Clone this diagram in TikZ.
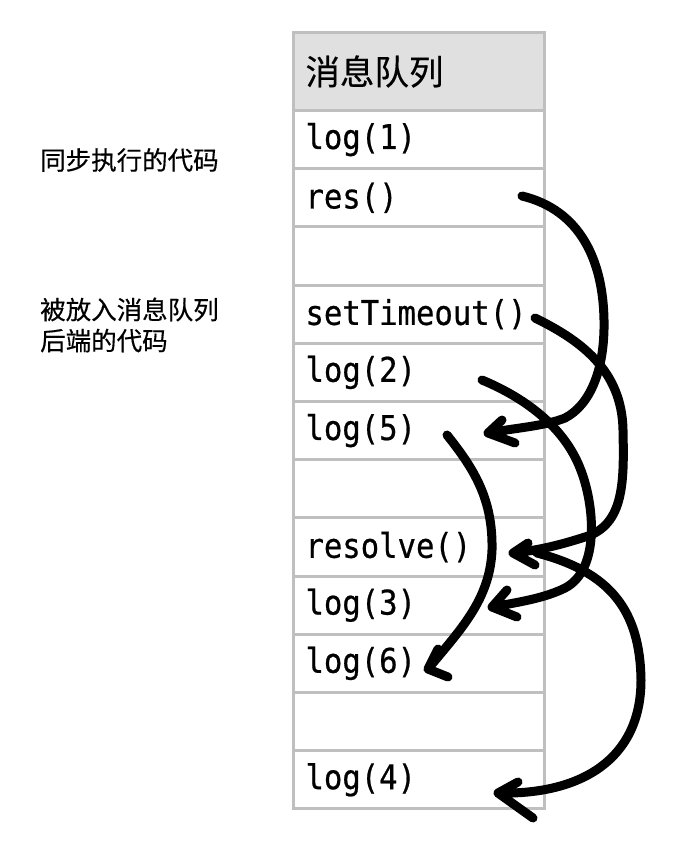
\documentclass[tikz,border=0pt]{standalone}
\usepackage{fontspec}
\newfontfamily\codefont[FakeStretch=0.9,FakeBold=0.6]{DejaVu Sans Mono}
\newfontfamily\cjk[FakeBold=0.4]{Noto Sans CJK SC}
\usetikzlibrary{calc}
\definecolor{qgray}{RGB}{191,191,191}
\definecolor{qhead}{RGB}{224,224,224}

\begin{document}
\begin{tikzpicture}[x=1pt,y=-1pt,
	cell/.style={draw=qgray, line width=3pt, rectangle, anchor=north west, minimum height=58.2pt, text width=227pt, inner xsep=12pt, inner ysep=0pt, align=left, font=\fontsize{34}{38}\selectfont\codefont},
	headcell/.style={cell, fill=qhead, minimum height=78pt, font=\fontsize{34.5}{40}\selectfont\cjk},
	note/.style={anchor=west, inner sep=0pt, align=left, font=\fontsize{25.5}{31}\selectfont\cjk},
	pen/.style={line width=9pt, line cap=round, line join=round}]
	\useasboundingbox (0,0) rectangle (683,846);
	%queue header and rows
	\node[headcell] (head) at (292,31) {消息队列};
	\foreach \name/\txt [count=\k] in {l1/log(1), res/res(), e1/, st/setTimeout(), l2/log(2), l5/log(5), e2/, rsv/resolve(), l3/log(3), l6/log(6), e3/, l4/log(4)}{
		\node[cell] (\name) at (292,{109+58.2*(\k-1)}) {\txt};
		}
	%%side notes
	\node[note] (sync) at (40,160) {同步执行的代码};
	\node[note] (async) at (40,325) {被放入消息队列\\后端的代码};
	%% hand drawn arrows
	\coordinate (res-out) at (522,196); \coordinate (l5-in) at (488,433);
	\coordinate (st-out) at (535,318); \coordinate (rsv-in) at (513,553);
	\coordinate (l2-out) at (482,380); \coordinate (l3-in) at (492,607);
	\coordinate (l5-out) at (447,435); \coordinate (l6-in) at (428,669);
	\coordinate (rsv-out) at (537,553); \coordinate (l4-in) at (498,793);
	\draw[pen] (res-out) .. controls (580,210) and (603,260) .. (604,320) .. controls (605,370) and (590,405) .. (565,418) .. controls (545,426) and (515,428) .. (l5-in) -- ++(14,-13) (l5-in) -- ++(27,10);
	\draw[pen] (st-out) .. controls (580,340) and (622,370) .. (623,430) .. controls (624,480) and (625,525) .. (585,537) .. controls (560,545) and (540,550) .. (rsv-in) -- ++(15,-10) (rsv-in) -- ++(22,12);
	\draw[pen] (l2-out) .. controls (530,400) and (565,430) .. (580,468) .. controls (595,505) and (600,570) .. (565,588) .. controls (545,598) and (520,602) .. (l3-in) -- ++(15,-17) (l3-in) -- ++(25,10);
	\draw[pen] (l5-out) .. controls (475,470) and (493,500) .. (492,550) .. controls (490,600) and (460,630) .. (l6-in) -- ++(10,-20) (l6-in) -- ++(20,8);
	\draw[pen] (rsv-out) .. controls (610,572) and (640,610) .. (641,680) .. controls (641,760) and (580,795) .. (l4-in) -- ++(20,-11) (l4-in) -- ++(35,25);
\end{tikzpicture}
\end{document}
